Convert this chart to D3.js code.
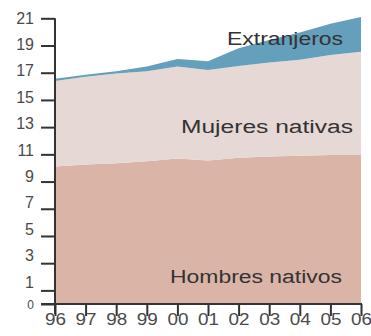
<!DOCTYPE html>
<html>
<head>
<meta charset="utf-8">
<script src="https://cdn.jsdelivr.net/npm/d3@7"></script>
<style>
  html, body { margin: 0; padding: 0; background: #fff; }
  svg { display: block; }
  .tick text { font-family: "Liberation Sans", Arial, sans-serif; fill: #4a4a4a; }
  .lbl { font-family: "Liberation Sans", Arial, sans-serif; fill: #333; }
</style>
</head>
<body>
<svg id="chart" width="371" height="336"></svg>
<script>
// Ocupados por grupo (millones), 1996-2006
const years = ["96", "97", "98", "99", "00", "01", "02", "03", "04", "05", "06"];
const hombresNativos = [10.1, 10.25, 10.35, 10.5, 10.7, 10.55, 10.75, 10.85, 10.9, 10.95, 10.95];
const mujeresNativas = [6.3, 6.45, 6.6, 6.6, 6.75, 6.65, 6.75, 6.9, 7.05, 7.35, 7.6];
const extranjeros = [0.15, 0.15, 0.15, 0.35, 0.55, 0.65, 1.3, 1.65, 2.0, 2.3, 2.55];
const yTicks = [0, 1, 3, 5, 7, 9, 11, 13, 15, 17, 19, 21];

const seriesKeys = ["hombres", "mujeres", "extranjeros"];
const colors = { hombres: "#dab5a7", mujeres: "#e6d8d4", extranjeros: "#649fbb" };

const rows = years.map((y, i) => ({
  year: y,
  hombres: hombresNativos[i],
  mujeres: mujeresNativas[i],
  extranjeros: extranjeros[i]
}));

const svg = d3.select("#chart");
const x = d3.scalePoint().domain(years).range([55, 361]);
const y = d3.scaleLinear().domain([0, 21]).range([304, 18.3]);
// tick labels sit on a slightly tighter scale than the tick marks
const yLabel = d3.scaleLinear().domain([1, 21]).range([281.5, 17.5]);

const stacked = d3.stack().keys(seriesKeys)(rows);
const area = d3.area()
  .x(d => x(d.data.year))
  .y0(d => y(d[0]))
  .y1(d => y(d[1]));

svg.append("g").selectAll("path")
  .data(stacked)
  .join("path")
  .attr("d", area)
  .attr("fill", d => colors[d.key]);

// Axes
const yAxis = svg.append("g")
  .attr("transform", "translate(55,0)")
  .call(d3.axisLeft(y).tickValues(yTicks).tickSize(14).tickPadding(7).tickFormat(d3.format("d")));
yAxis.select(".domain").remove();
yAxis.selectAll(".tick line").attr("stroke", "#333").attr("stroke-width", 2);
yAxis.selectAll(".tick text")
  .attr("font-size", d => d === 0 ? 12 : 16)
  .attr("dy", "0.35em")
  .attr("y", d => d === 0 ? 0 : yLabel(d) - y(d));

const xAxis = svg.append("g")
  .attr("transform", "translate(0,304)")
  .call(d3.axisBottom(x).tickSize(12).tickPadding(-1));
xAxis.select(".domain").remove();
xAxis.selectAll(".tick line").attr("stroke", "#333").attr("stroke-width", 2);
xAxis.selectAll(".tick text").attr("font-size", 16).attr("dy", "0.65em")
  .attr("textLength", 21).attr("lengthAdjust", "spacingAndGlyphs");

// Axis lines
svg.append("line").attr("x1", 55).attr("x2", 55).attr("y1", y(21)).attr("y2", 314)
  .attr("stroke", "#333").attr("stroke-width", 2);
svg.append("line").attr("x1", 41).attr("x2", 362).attr("y1", 304).attr("y2", 304)
  .attr("stroke", "#333").attr("stroke-width", 2);

// Series labels
const labels = [
  { text: "Extranjeros", x: 227, y: 45, w: 116 },
  { text: "Mujeres nativas", x: 181, y: 133, w: 172 },
  { text: "Hombres nativos", x: 170, y: 283, w: 172 }
];
svg.selectAll("text.lbl")
  .data(labels)
  .join("text")
  .attr("class", "lbl")
  .attr("x", d => d.x)
  .attr("y", d => d.y)
  .attr("font-size", 18)
  .attr("textLength", d => d.w)
  .attr("lengthAdjust", "spacingAndGlyphs")
  .text(d => d.text);
</script>
</body>
</html>
